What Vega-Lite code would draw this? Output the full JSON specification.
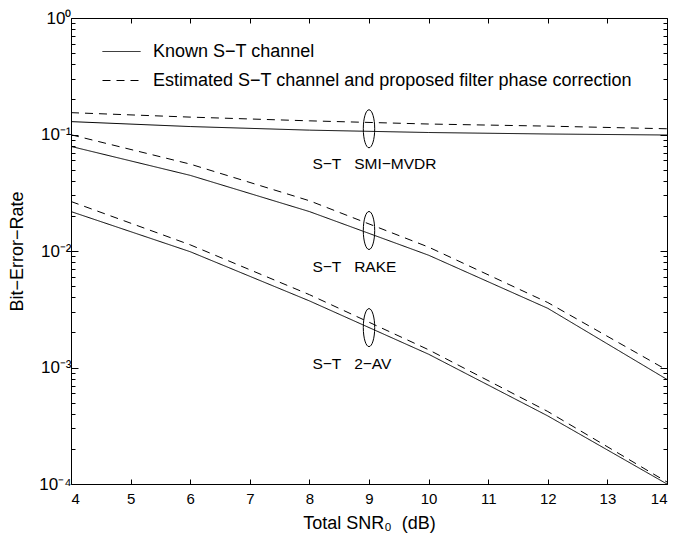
{
  "$schema": "https://vega.github.io/schema/vega-lite/v6.json",
  "width": 596,
  "height": 466,
  "autosize": {"type": "none"},
  "padding": {"left": 71, "top": 18, "right": 10, "bottom": 58},
  "background": "white",
  "datasets": {
    "curves": [
      {"snr": 4, "ber": 0.129, "curve": "SMI-K", "type": "Known S−T channel"},
      {"snr": 6, "ber": 0.117, "curve": "SMI-K", "type": "Known S−T channel"},
      {"snr": 8, "ber": 0.109, "curve": "SMI-K", "type": "Known S−T channel"},
      {"snr": 10, "ber": 0.104, "curve": "SMI-K", "type": "Known S−T channel"},
      {"snr": 12, "ber": 0.101, "curve": "SMI-K", "type": "Known S−T channel"},
      {"snr": 14, "ber": 0.099, "curve": "SMI-K", "type": "Known S−T channel"},
      {"snr": 4, "ber": 0.154, "curve": "SMI-E", "type": "Estimated S−T channel and proposed filter phase correction"},
      {"snr": 6, "ber": 0.141, "curve": "SMI-E", "type": "Estimated S−T channel and proposed filter phase correction"},
      {"snr": 8, "ber": 0.131, "curve": "SMI-E", "type": "Estimated S−T channel and proposed filter phase correction"},
      {"snr": 10, "ber": 0.123, "curve": "SMI-E", "type": "Estimated S−T channel and proposed filter phase correction"},
      {"snr": 12, "ber": 0.118, "curve": "SMI-E", "type": "Estimated S−T channel and proposed filter phase correction"},
      {"snr": 14, "ber": 0.112, "curve": "SMI-E", "type": "Estimated S−T channel and proposed filter phase correction"},
      {"snr": 4, "ber": 0.079, "curve": "RAKE-K", "type": "Known S−T channel"},
      {"snr": 6, "ber": 0.0446, "curve": "RAKE-K", "type": "Known S−T channel"},
      {"snr": 8, "ber": 0.0218, "curve": "RAKE-K", "type": "Known S−T channel"},
      {"snr": 10, "ber": 0.0092, "curve": "RAKE-K", "type": "Known S−T channel"},
      {"snr": 12, "ber": 0.00322, "curve": "RAKE-K", "type": "Known S−T channel"},
      {"snr": 14, "ber": 0.00079, "curve": "RAKE-K", "type": "Known S−T channel"},
      {"snr": 4, "ber": 0.0995, "curve": "RAKE-E", "type": "Estimated S−T channel and proposed filter phase correction"},
      {"snr": 6, "ber": 0.0557, "curve": "RAKE-E", "type": "Estimated S−T channel and proposed filter phase correction"},
      {"snr": 8, "ber": 0.027, "curve": "RAKE-E", "type": "Estimated S−T channel and proposed filter phase correction"},
      {"snr": 10, "ber": 0.0108, "curve": "RAKE-E", "type": "Estimated S−T channel and proposed filter phase correction"},
      {"snr": 12, "ber": 0.00361, "curve": "RAKE-E", "type": "Estimated S−T channel and proposed filter phase correction"},
      {"snr": 14, "ber": 0.00095, "curve": "RAKE-E", "type": "Estimated S−T channel and proposed filter phase correction"},
      {"snr": 4, "ber": 0.0218, "curve": "AV-K", "type": "Known S−T channel"},
      {"snr": 6, "ber": 0.00986, "curve": "AV-K", "type": "Known S−T channel"},
      {"snr": 8, "ber": 0.00373, "curve": "AV-K", "type": "Known S−T channel"},
      {"snr": 10, "ber": 0.0013, "curve": "AV-K", "type": "Known S−T channel"},
      {"snr": 12, "ber": 0.000384, "curve": "AV-K", "type": "Known S−T channel"},
      {"snr": 14, "ber": 0.0001, "curve": "AV-K", "type": "Known S−T channel"},
      {"snr": 4, "ber": 0.0266, "curve": "AV-E", "type": "Estimated S−T channel and proposed filter phase correction"},
      {"snr": 6, "ber": 0.0113, "curve": "AV-E", "type": "Estimated S−T channel and proposed filter phase correction"},
      {"snr": 8, "ber": 0.00422, "curve": "AV-E", "type": "Estimated S−T channel and proposed filter phase correction"},
      {"snr": 10, "ber": 0.00142, "curve": "AV-E", "type": "Estimated S−T channel and proposed filter phase correction"},
      {"snr": 12, "ber": 0.000419, "curve": "AV-E", "type": "Estimated S−T channel and proposed filter phase correction"},
      {"snr": 14, "ber": 0.000104, "curve": "AV-E", "type": "Estimated S−T channel and proposed filter phase correction"}
    ],
    "groups": [
      {"snr": 9, "ber": 0.112, "label_x": 8.05, "label_y": 0.0562, "label": "S−T\u00a0\u00a0\u00a0SMI−MVDR"},
      {"snr": 9, "ber": 0.0150, "label_x": 8.05, "label_y": 0.00732, "label": "S−T\u00a0\u00a0\u00a0RAKE"},
      {"snr": 9, "ber": 0.0022, "label_x": 8.05, "label_y": 0.00107, "label": "S−T\u00a0\u00a0\u00a02−AV"}
    ]
  },
  "layer": [
    {
      "data": {"name": "curves"},
      "mark": {"type": "line", "color": "black", "strokeWidth": 1},
      "encoding": {
        "x": {
          "field": "snr", "type": "quantitative",
          "scale": {"domain": [4, 14], "nice": false, "zero": false},
          "axis": {
            "orient": "bottom",
            "values": [4, 5, 6, 7, 8, 9, 10, 11, 12, 13, 14],
            "tickSize": -5,
            "labelPadding": 12,
            "labelFontSize": 15,
            "title": "Total SNR₀\u00a0\u00a0(dB)",
            "titleFontSize": 18,
            "titlePadding": 8
          }
        },
        "y": {
          "field": "ber", "type": "quantitative",
          "scale": {"type": "log", "domain": [0.0001, 1], "nice": false},
          "axis": {
            "orient": "left",
            "values": [0.0001, 0.0002, 0.0003, 0.0004, 0.0005, 0.0006, 0.0007, 0.0008, 0.0009, 0.001, 0.002, 0.003, 0.004, 0.005, 0.006, 0.007, 0.008, 0.009, 0.01, 0.02, 0.03, 0.04, 0.05, 0.06, 0.07, 0.08, 0.09, 0.1, 0.2, 0.3, 0.4, 0.5, 0.6, 0.7, 0.8, 0.9, 1],
            "tickSize": {"condition": {"test": "abs(log(datum.value)/LN10 - round(log(datum.value)/LN10)) < 0.001", "value": -7}, "value": -4},
            "labelExpr": "abs(log(datum.value)/LN10 - round(log(datum.value)/LN10)) < 0.001 ? '10' + ['⁰','⁻¹','⁻²','⁻³','⁻⁴'][-round(log(datum.value)/LN10)] : ''",
            "labelFontSize": 17,
            "labelPadding": 7,
            "labelOverlap": false,
            "title": "Bit−Error−Rate",
            "titleFontSize": 18,
            "titlePadding": 12
          }
        },
        "detail": {"field": "curve"},
        "strokeDash": {
          "field": "type", "type": "nominal",
          "scale": {
            "domain": ["Known S−T channel", "Estimated S−T channel and proposed filter phase correction"],
            "range": [[1, 0], [8, 6]]
          },
          "legend": {
            "orient": "none",
            "legendX": 31,
            "legendY": 14,
            "title": null,
            "symbolType": "stroke",
            "symbolSize": 1444,
            "symbolStrokeWidth": 1,
            "symbolStrokeColor": "black",
            "labelFontSize": 18,
            "labelFont": "Liberation Sans",
            "labelColor": "black",
            "labelLimit": 700,
            "labelOffset": 12,
            "rowPadding": 0
          }
        }
      }
    },
    {
      "data": {"name": "groups"},
      "mark": {"type": "point", "shape": "M0,-1A0.3,1,0,1,1,0,1A0.3,1,0,1,1,0,-1Z", "size": 1444, "filled": false, "stroke": "black", "strokeWidth": 1, "opacity": 1},
      "encoding": {
        "x": {
          "field": "snr", "type": "quantitative",
          "axis": {"orient": "top", "values": [4, 5, 6, 7, 8, 9, 10, 11, 12, 13, 14], "tickSize": -5, "labels": false, "title": null}
        },
        "y": {
          "field": "ber", "type": "quantitative",
          "axis": {
            "orient": "right",
            "values": [0.0001, 0.0002, 0.0003, 0.0004, 0.0005, 0.0006, 0.0007, 0.0008, 0.0009, 0.001, 0.002, 0.003, 0.004, 0.005, 0.006, 0.007, 0.008, 0.009, 0.01, 0.02, 0.03, 0.04, 0.05, 0.06, 0.07, 0.08, 0.09, 0.1, 0.2, 0.3, 0.4, 0.5, 0.6, 0.7, 0.8, 0.9, 1],
            "tickSize": {"condition": {"test": "abs(log(datum.value)/LN10 - round(log(datum.value)/LN10)) < 0.001", "value": -7}, "value": -4},
            "labels": false,
            "title": null
          }
        }
      }
    },
    {
      "data": {"name": "groups"},
      "mark": {"type": "text", "align": "left", "baseline": "middle", "font": "Liberation Sans", "fontSize": 15.5, "color": "black"},
      "encoding": {
        "x": {"field": "label_x", "type": "quantitative", "axis": null},
        "y": {"field": "label_y", "type": "quantitative", "axis": null},
        "text": {"field": "label"}
      }
    }
  ],
  "resolve": {"axis": {"x": "independent", "y": "independent"}},
  "config": {
    "view": {"stroke": null},
    "axis": {
      "domainColor": "black",
      "tickColor": "black",
      "labelColor": "black",
      "titleColor": "black",
      "labelFont": "Liberation Sans",
      "titleFont": "Liberation Sans",
      "titleFontWeight": "normal",
      "grid": false,
      "domainWidth": 1,
      "tickWidth": 1
    }
  }
}
